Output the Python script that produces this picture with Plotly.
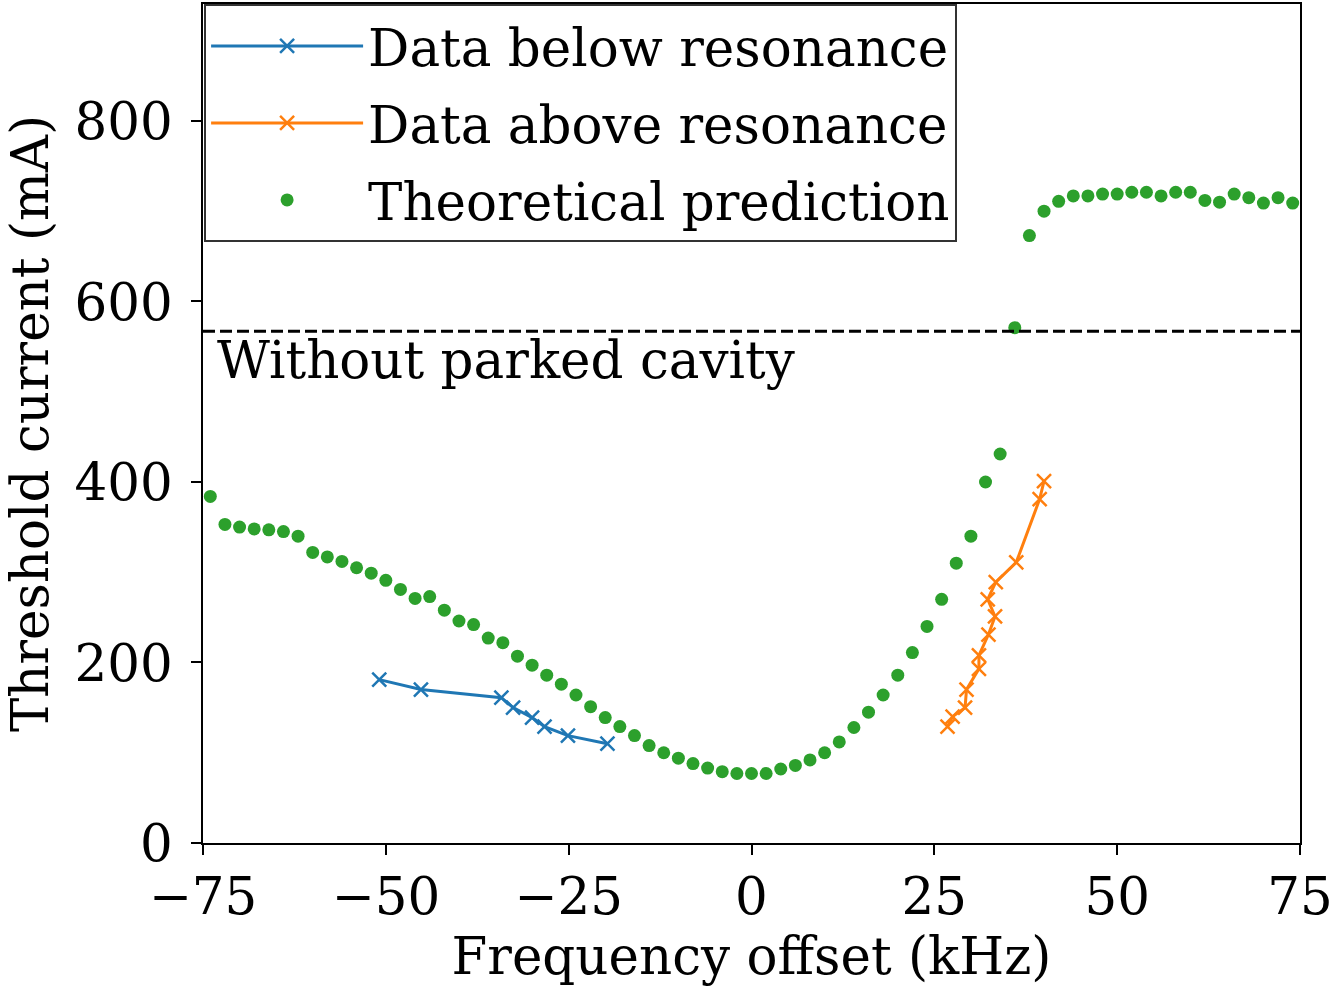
import plotly.graph_objects as go

# Measured instability threshold vs. frequency offset of the parked cavity
below_freq = [-50.9, -45.2, -34.2, -32.6, -30.0, -28.3, -25.1, -19.7]
below_current = [181, 170, 161, 150, 139, 129, 119, 110]

above_freq = [26.8, 27.5, 29.2, 29.4, 31.1, 31.1, 32.4, 33.3, 32.3, 33.4, 36.2, 39.4, 40.0]
above_current = [129, 140, 150, 170, 193, 208, 231, 251, 270, 289, 311, 381, 401]

# Theoretical prediction on a 2 kHz grid
theory_freq = [-74, -72, -70, -68, -66, -64, -62, -60, -58, -56, -54, -52, -50, -48, -46,
               -44, -42, -40, -38, -36, -34, -32, -30, -28, -26, -24, -22, -20, -18, -16,
               -14, -12, -10, -8, -6, -4, -2, 0, 2, 4, 6, 8, 10, 12, 14,
               16, 18, 20, 22, 24, 26, 28, 30, 32, 34, 36, 38, 40, 42, 44,
               46, 48, 50, 52, 54, 56, 58, 60, 62, 64, 66, 68, 70, 72, 74]
theory_current = [384, 353, 350, 348, 347, 345, 340, 322, 317, 312, 305, 299, 291, 281, 271,
                  273, 258, 246, 242, 227, 222, 207, 197, 186, 176, 164, 151, 139, 129, 119,
                  108, 100, 94, 88, 83, 79, 77, 77, 77, 82, 86, 92, 100, 112, 128,
                  145, 164, 186, 211, 240, 270, 310, 340, 400, 431, 571, 673, 700, 711, 717,
                  717, 719, 719, 721, 721, 717, 721, 721, 712, 710, 719, 715, 709, 715, 709]

# Threshold without the parked cavity
no_parked_threshold = 567

x_ticks = [-75, -50, -25, 0, 25, 50, 75]
y_ticks = [0, 200, 400, 600, 800]

FONT = "DejaVu Serif"
FS = 51.5

fig = go.Figure()

fig.add_trace(go.Scatter(
    x=below_freq, y=below_current, mode="lines+markers",
    name="Data below resonance", legendgroup="below",
    line=dict(color="#1f77b4", width=3),
    marker=dict(symbol="x-thin", size=14, line=dict(color="#1f77b4", width=2.5)),
))
fig.add_trace(go.Scatter(
    x=above_freq, y=above_current, mode="lines+markers",
    name="Data above resonance", legendgroup="above",
    line=dict(color="#ff7f0e", width=3),
    marker=dict(symbol="x-thin", size=14, line=dict(color="#ff7f0e", width=2.5)),
))
fig.add_trace(go.Scatter(
    x=theory_freq, y=theory_current, mode="markers",
    name="Theoretical prediction", legendgroup="theory",
    marker=dict(symbol="circle", size=13, color="#2ca02c"),
))

fig.add_hline(y=no_parked_threshold, line=dict(color="black", width=3, dash="12px,5px"))
fig.add_annotation(
    x=0.011, xref="paper", y=no_parked_threshold, yref="y",
    xanchor="left", yanchor="top", yshift=3,
    text="Without parked cavity", showarrow=False,
    font=dict(family=FONT, size=FS, color="black"),
)

axis_common = dict(
    showline=True, linecolor="black", linewidth=2, mirror=True,
    ticks="outside", ticklen=10, tickwidth=2, tickcolor="black",
    showgrid=False, zeroline=False,
    tickfont=dict(family=FONT, size=FS, color="black"),
    ticklabeloverflow="allow", automargin=False,
)

fig.update_layout(
    width=1332, height=987,
    margin=dict(l=203, r=32, t=4, b=144, autoexpand=False),
    paper_bgcolor="white", plot_bgcolor="white",
    font=dict(family=FONT, size=FS, color="black"),
    xaxis=dict(range=[-75, 75], tickvals=x_ticks,
               ticktext=[("\u2212" + str(-v)) if v < 0 else str(v) for v in x_ticks],
               ticklabelstandoff=-3,
               title=dict(text="Frequency offset (kHz)", font=dict(family=FONT, size=FS), standoff=5),
               **axis_common),
    yaxis=dict(range=[0, 929.6], tickvals=y_ticks,
               ticklabelstandoff=8,
               title=dict(text="Threshold current (mA)", font=dict(family=FONT, size=FS), standoff=10),
               **axis_common),
    legend=dict(
        x=0.001, y=1.0, xanchor="left", yanchor="top",
        bgcolor="white", bordercolor="#333333", borderwidth=2,
        font=dict(family=FONT, size=FS, color="black"),
        itemwidth=152, tracegroupgap=7,
    ),
    showlegend=True,
)

fig.write_html("out.html")
